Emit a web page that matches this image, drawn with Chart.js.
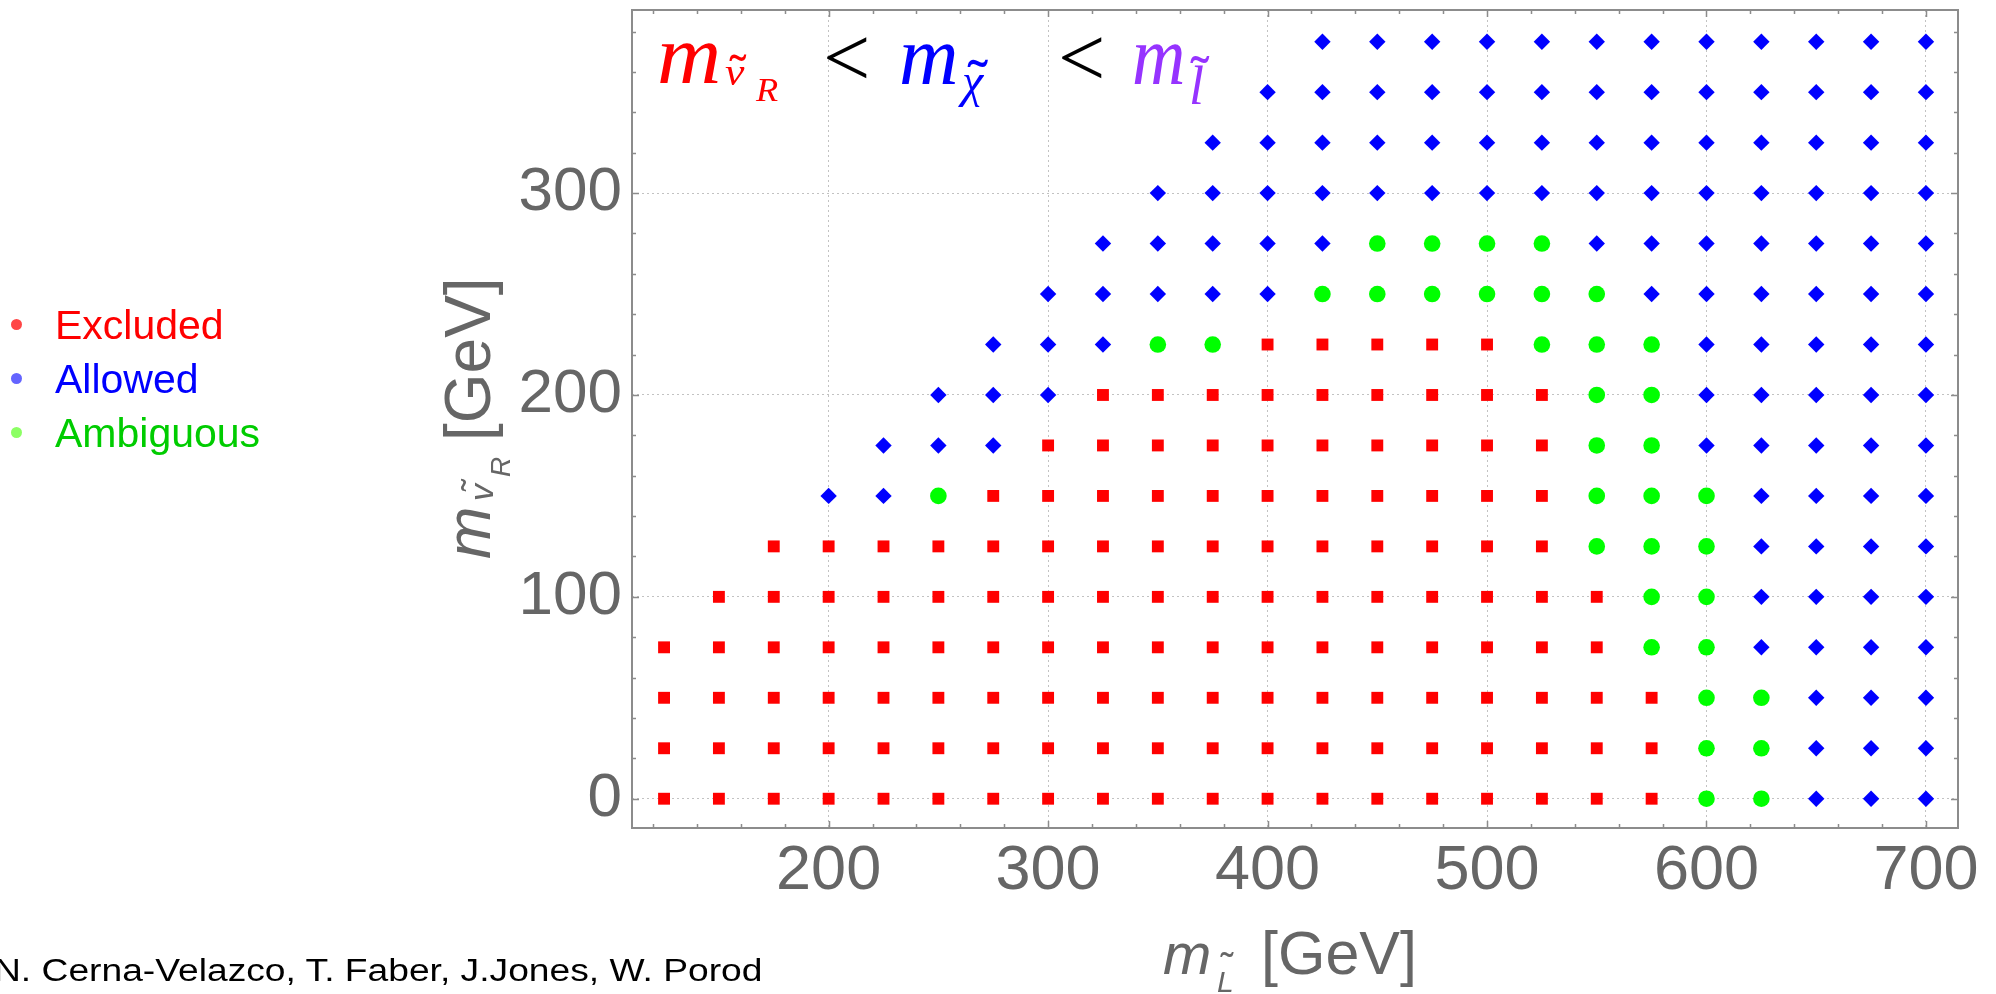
<!DOCTYPE html>
<html>
<head>
<meta charset="utf-8">
<script src="https://cdn.jsdelivr.net/npm/chart.js@4.4.1/dist/chart.umd.min.js"></script>
<style>
  html, body { margin: 0; padding: 0; background: #fff; overflow: hidden; }
  #wrap { position: relative; width: 1996px; height: 994px; }
  #chart { position: absolute; left: 0; top: 0; }
  .legend-dot { position: absolute; left: 11px; width: 11px; height: 11px; border-radius: 50%; }
  .legend-text { position: absolute; left: 55px; font: 41px/41px 'Liberation Sans', Arial, sans-serif; white-space: nowrap; }
  #authors { position: absolute; left: -6px; top: 955px; font: 31px/31px 'Liberation Sans', Arial, sans-serif; color: #000;
             white-space: nowrap; transform: scaleX(1.2); transform-origin: 0 0; }
</style>
</head>
<body>
<div id="wrap">
  <canvas id="chart" width="1996" height="994"></canvas>
  <div id="legend"></div>
  <div id="authors">N. Cerna-Velazco, T. Faber, J.Jones, W. Porod</div>
</div>
<script>
// grid of scanned masses (GeV)
const xValues = [125, 150, 175, 200, 225, 250, 275, 300, 325, 350, 375, 400,
                 425, 450, 475, 500, 525, 550, 575, 600, 625, 650, 675, 700];
const yValues = [0, 25, 50, 75, 100, 125, 150, 175, 200, 225, 250, 275, 300, 325, 350, 375];

// one string per y row, one char per x column: R = excluded, B = allowed, G = ambiguous, . = no point
const rowCodes = [
  'RRRRRRRRRRRRRRRRRRRGGBBB', // 0
  'RRRRRRRRRRRRRRRRRRRGGBBB', // 25
  'RRRRRRRRRRRRRRRRRRRGGBBB', // 50
  'RRRRRRRRRRRRRRRRRRGGBBBB', // 75
  '.RRRRRRRRRRRRRRRRRGGBBBB', // 100
  '..RRRRRRRRRRRRRRRGGGBBBB', // 125
  '...BBGRRRRRRRRRRRGGGBBBB', // 150
  '....BBBRRRRRRRRRRGGBBBBB', // 175
  '.....BBBRRRRRRRRRGGBBBBB', // 200
  '......BBBGGRRRRRGGGBBBBB', // 225
  '.......BBBBBGGGGGGBBBBBB', // 250
  '........BBBBBGGGGBBBBBBB', // 275
  '.........BBBBBBBBBBBBBBB', // 300
  '..........BBBBBBBBBBBBBB', // 325
  '...........BBBBBBBBBBBBB', // 350
  '............BBBBBBBBBBBB'  // 375
];

const categories = ['Excluded', 'Allowed', 'Ambiguous'];
const categoryCodes = ['R', 'B', 'G'];
const markerColors = ['#ff0000', '#0000ff', '#00ff00'];
const markerStyles = ['rect', 'rectRot', 'circle'];
const markerRadius = [8.4, 8.2, 8.3];
const legendDotColors = ['#ff4545', '#6464ff', '#8cff64'];
const legendTextColors = ['#ff0000', '#0000ff', '#00cc00'];

function pointsFor(code) {
  const pts = [];
  rowCodes.forEach((row, i) => {
    for (let j = 0; j < row.length; j++) {
      if (row[j] === code) pts.push({ x: xValues[j], y: yValues[i] });
    }
  });
  return pts;
}

// legend on the left
const legend = document.getElementById('legend');
const legendBaselines = [340, 394, 448];
categories.forEach((name, i) => {
  const dot = document.createElement('div');
  dot.className = 'legend-dot';
  dot.style.top = (legendBaselines[i] - 21) + 'px';
  dot.style.background = legendDotColors[i];
  legend.appendChild(dot);
  const t = document.createElement('div');
  t.className = 'legend-text';
  t.style.top = (legendBaselines[i] - 34.7) + 'px';
  t.style.color = legendTextColors[i];
  t.textContent = name;
  legend.appendChild(t);
});

const GRAY = '#666666';
const SANS = "'Liberation Sans', Arial, sans-serif";
const SERIF = "'Liberation Serif', 'Times New Roman', serif";

function put(ctx, s, x, y, font, color, sx) {
  ctx.save();
  ctx.font = font;
  ctx.fillStyle = color;
  ctx.translate(x, y);
  ctx.scale(sx || 1, 1);
  ctx.fillText(s, 0, 0);
  ctx.restore();
}

// small tilde accent centred on (cx, cy)
function tilde(ctx, cx, cy, size, color) {
  ctx.font = size + 'px ' + SANS;
  const w = ctx.measureText('\u02DC').width;
  ctx.fillStyle = color;
  ctx.fillText('\u02DC', cx - w / 2, cy + 0.655 * size);
}

const framePlugin = {
  id: 'frame',
  beforeDatasetsDraw(chart) {
    const { ctx, chartArea: a, scales: { x, y } } = chart;
    ctx.save();
    ctx.strokeStyle = '#8c8c8c';
    ctx.lineWidth = 1.5;
    ctx.beginPath();
    x.ticks.forEach(t => {
      const px = Math.round(x.getPixelForValue(t.value)) + 0.5;
      const len = t.value % 100 === 0 ? 7 : 4;
      ctx.moveTo(px, a.bottom); ctx.lineTo(px, a.bottom - len);
      ctx.moveTo(px, a.top); ctx.lineTo(px, a.top + len);
    });
    y.ticks.forEach(t => {
      const py = Math.round(y.getPixelForValue(t.value)) + 0.5;
      const len = t.value % 100 === 0 ? 7 : 4;
      ctx.moveTo(a.left, py); ctx.lineTo(a.left + len, py);
      ctx.moveTo(a.right, py); ctx.lineTo(a.right - len, py);
    });
    ctx.stroke();
    ctx.lineWidth = 2;
    ctx.strokeRect(a.left, a.top, a.right - a.left, a.bottom - a.top);
    ctx.restore();
  },
  afterDraw(chart) {
    const ctx = chart.ctx;
    ctx.save();
    ctx.textBaseline = 'alphabetic';
    ctx.textAlign = 'left';

    // m_{v~_R} < m_{chi~} < m_{l~}
    const red = '#ff0000', blue = '#0000ff', purple = '#9633ff';
    put(ctx, 'm', 657, 83, 'italic 84px ' + SERIF, red, 1.06);
    put(ctx, 'v', 725, 85, 'italic 38px ' + SERIF, red, 1.15);
    tilde(ctx, 738, 58, 48, red);
    put(ctx, 'R', 756, 101, 'italic 33px ' + SERIF, red, 1.1);
    put(ctx, '<', 823, 86, '84px ' + SERIF, '#000');
    put(ctx, 'm', 899, 84, 'italic 84px ' + SERIF, blue, 0.98);
    put(ctx, '\u03C7', 962, 97, 'italic 48px ' + SERIF, blue);
    tilde(ctx, 978, 63, 58, blue);
    put(ctx, '<', 1058, 86, '84px ' + SERIF, '#000');
    put(ctx, 'm', 1132, 84, 'italic 84px ' + SERIF, purple, 0.88);
    put(ctx, 'l', 1189, 104, 'italic 54px ' + SERIF, purple);
    tilde(ctx, 1200, 60, 54, purple);

    // x title: m_{L~} [GeV]
    put(ctx, 'm', 1163, 974, 'italic 58px ' + SANS, GRAY);
    put(ctx, 'L', 1217, 992, 'italic 30px ' + SANS, GRAY);
    tilde(ctx, 1227, 955, 38, GRAY);
    put(ctx, '[GeV]', 1261, 974, '61px ' + SANS, GRAY);

    // y title, rotated
    ctx.translate(490, 559);
    ctx.rotate(-Math.PI / 2);
    put(ctx, 'm', 0, 0, 'italic 63px ' + SANS, GRAY);
    put(ctx, 'v', 58, 3, 'italic 34px ' + SANS, GRAY);
    tilde(ctx, 74, -26, 36, GRAY);
    put(ctx, 'R', 82, 20, 'italic 28px ' + SANS, GRAY);
    put(ctx, '[GeV]', 118, 0, '64px ' + SANS, GRAY);
    ctx.restore();
  }
};

const gridColor = c => (c.tick && c.tick.value % 100 === 0) ? '#c2c2c2' : 'rgba(0,0,0,0)';

new Chart(document.getElementById('chart'), {
  type: 'scatter',
  data: {
    datasets: categories.map((name, i) => ({
      label: name,
      data: pointsFor(categoryCodes[i]),
      pointStyle: markerStyles[i],
      pointRadius: markerRadius[i],
      pointBackgroundColor: markerColors[i],
      pointBorderWidth: 0,
      pointHoverRadius: markerRadius[i]
    }))
  },
  options: {
    responsive: false,
    devicePixelRatio: 1,
    animation: false,
    layout: { padding: { left: 0, top: 10, right: 38, bottom: 0 } },
    plugins: { legend: { display: false }, tooltip: { enabled: false } },
    scales: {
      x: {
        type: 'linear',
        min: 110.4,
        max: 714.6,
        ticks: {
          stepSize: 20, includeBounds: false, autoSkip: false, maxRotation: 0, minRotation: 0,
          padding: 6, color: GRAY, font: { family: SANS, size: 63 },
          callback: v => (v % 100 === 0 ? String(v) : '')
        },
        grid: { drawTicks: false, color: gridColor, lineWidth: 1 },
        border: { display: false, dash: [2, 3] },
        afterFit: s => { s.height = 166; s.paddingLeft = 0; s.paddingRight = 0; }
      },
      y: {
        type: 'linear',
        min: -14.5,
        max: 390.7,
        ticks: {
          stepSize: 20, includeBounds: false, autoSkip: false,
          padding: 10, color: GRAY, font: { family: SANS, size: 62 },
          callback: v => (v % 100 === 0 ? String(v) : '')
        },
        grid: { drawTicks: false, color: gridColor, lineWidth: 1 },
        border: { display: false, dash: [2, 3] },
        afterFit: s => { s.width = 632; s.paddingTop = 0; s.paddingBottom = 0; }
      }
    }
  },
  plugins: [framePlugin]
});
</script>
</body>
</html>
